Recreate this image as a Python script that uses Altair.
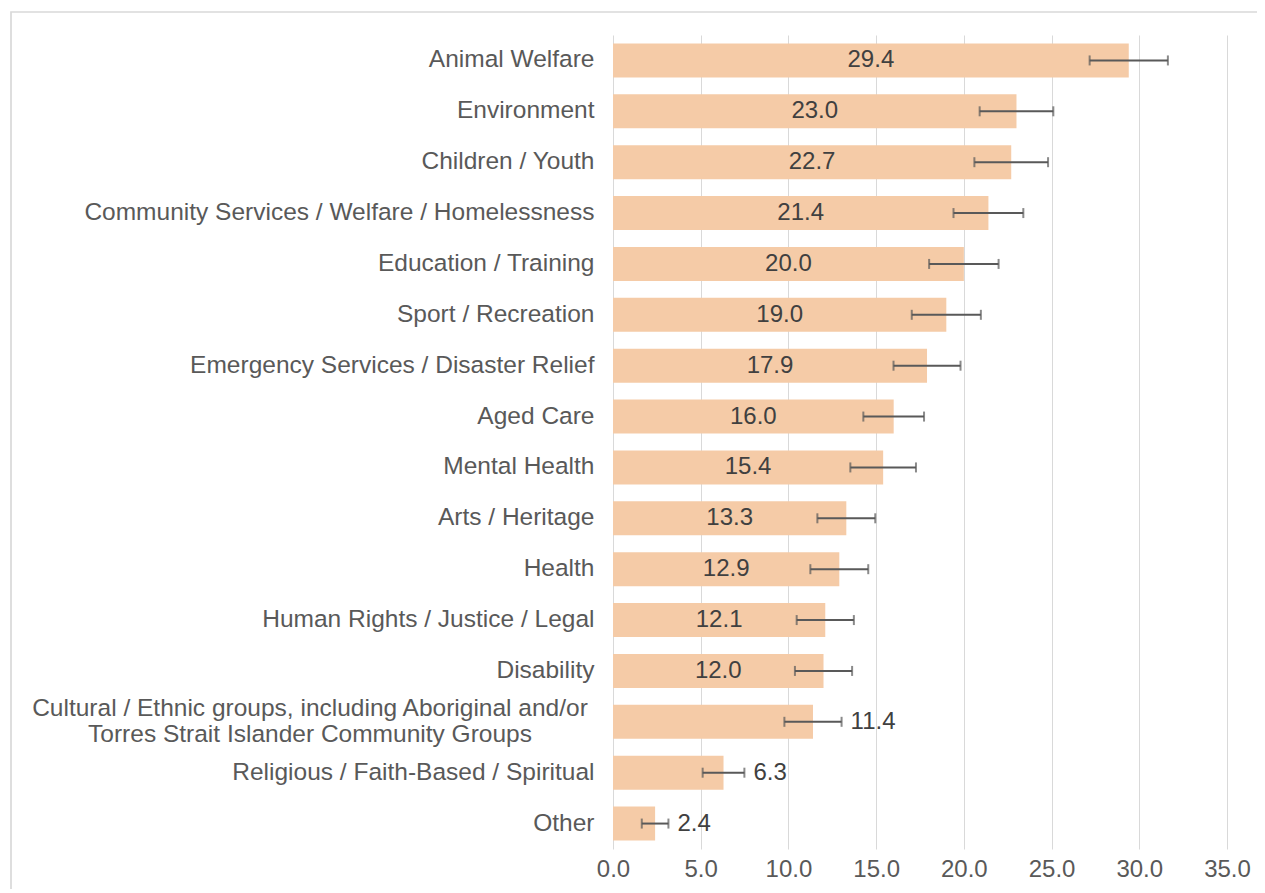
import altair as alt
import pandas as pd

categories = [
    "Animal Welfare",
    "Environment",
    "Children / Youth",
    "Community Services / Welfare / Homelessness",
    "Education / Training",
    "Sport / Recreation",
    "Emergency Services / Disaster Relief",
    "Aged Care",
    "Mental Health",
    "Arts / Heritage",
    "Health",
    "Human Rights / Justice / Legal",
    "Disability",
    "Cultural / Ethnic groups, including Aboriginal and/or\nTorres Strait Islander Community Groups",
    "Religious / Faith-Based / Spiritual",
    "Other",
]
values = [29.4, 23.0, 22.7, 21.4, 20.0, 19.0, 17.9, 16.0, 15.4, 13.3, 12.9, 12.1, 12.0, 11.4, 6.3, 2.4]
errors = [2.23, 2.1, 2.1, 1.99, 1.98, 1.97, 1.91, 1.73, 1.87, 1.65, 1.65, 1.63, 1.63, 1.63, 1.19, 0.76]
x_ticks = [0, 5, 10, 15, 20, 25, 30, 35]

df = pd.DataFrame({"category": categories, "value": values, "err": errors})

FONT = "Liberation Sans"
BAR = "#F5CBA7"
GRID = "#D9D9D9"
AXIS_TXT = "#595959"
VAL_TXT = "#404040"
ERR = "#595959"

W, H = 614, 814

y_enc = alt.Y(
    "category:N",
    sort=categories,
    scale=alt.Scale(paddingInner=0.33, paddingOuter=0.165),
    axis=alt.Axis(
        title=None,
        domain=False,
        ticks=False,
        labelPadding=19,
        labelFontSize=24.5,
        labelFont=FONT,
        labelColor=AXIS_TXT,
        labelLimit=700,
        labelExpr="substring(datum.label, 0, 8) == 'Cultural' ? '' : datum.label",
    ),
)

x_scale = alt.Scale(domain=[0, 35], nice=False)
x_axis = alt.Axis(
    title=None,
    values=x_ticks,
    format=".1f",
    domain=False,
    ticks=False,
    grid=True,
    gridColor=GRID,
    gridWidth=1,
    labelFlush=False,
    labelPadding=8,
    labelFontSize=24,
    labelFont=FONT,
    labelColor=AXIS_TXT,
)

base = alt.Chart(df).transform_calculate(
    lo="datum.value - datum.err",
    hi="datum.value + datum.err",
    mid="datum.value / 2",
)

bars = base.mark_bar(color=BAR).encode(
    x=alt.X("value:Q", scale=x_scale, axis=x_axis),
    y=y_enc,
)

err_line = base.mark_rule(color=ERR, strokeWidth=2).encode(
    x="lo:Q", x2="hi:Q", y=alt.Y("category:N", sort=categories)
)
err_lo = base.mark_tick(color=ERR, orient="vertical", size=10, thickness=2).encode(
    x="lo:Q", y=alt.Y("category:N", sort=categories)
)
err_hi = base.mark_tick(color=ERR, orient="vertical", size=10, thickness=2).encode(
    x="hi:Q", y=alt.Y("category:N", sort=categories)
)

lab_in = base.transform_filter("datum.value >= 11.5").mark_text(
    font=FONT, fontSize=24, color=VAL_TXT, align="center", baseline="middle"
).encode(
    x="mid:Q",
    y=alt.Y("category:N", sort=categories),
    text=alt.Text("value:Q", format=".1f"),
)

lab_out = base.transform_filter("datum.value < 11.5").mark_text(
    font=FONT, fontSize=24, color=VAL_TXT, align="left", baseline="middle", dx=9
).encode(
    x="hi:Q",
    y=alt.Y("category:N", sort=categories),
    text=alt.Text("value:Q", format=".1f"),
)

cult_lab = base.transform_filter("substring(datum.category, 0, 8) == 'Cultural'").mark_text(
    font=FONT, fontSize=24.5, color=AXIS_TXT, align="center", baseline="middle",
    lineBreak="\n", lineHeight=26, dy=-13,
).encode(
    x=alt.value(-303),
    y=alt.Y("category:N", sort=categories),
    text="category:N",
)

frame = alt.Chart(pd.DataFrame({"k": [0]})).mark_rect(
    fill="white", fillOpacity=0, stroke=GRID, strokeWidth=1.7
).encode(
    x=alt.value(-602), x2=alt.value(800), y=alt.value(-23), y2=alt.value(950)
)

chart = alt.layer(frame, bars, err_line, err_lo, err_hi, lab_in, lab_out, cult_lab).properties(
    width=W,
    height=H,
    autosize=alt.AutoSizeParams(type="none"),
    padding={"left": 605, "top": 27, "right": 30, "bottom": 40},
).configure_view(strokeWidth=0)

chart.save("out.html", embed_options={"renderer": "svg", "actions": False})
